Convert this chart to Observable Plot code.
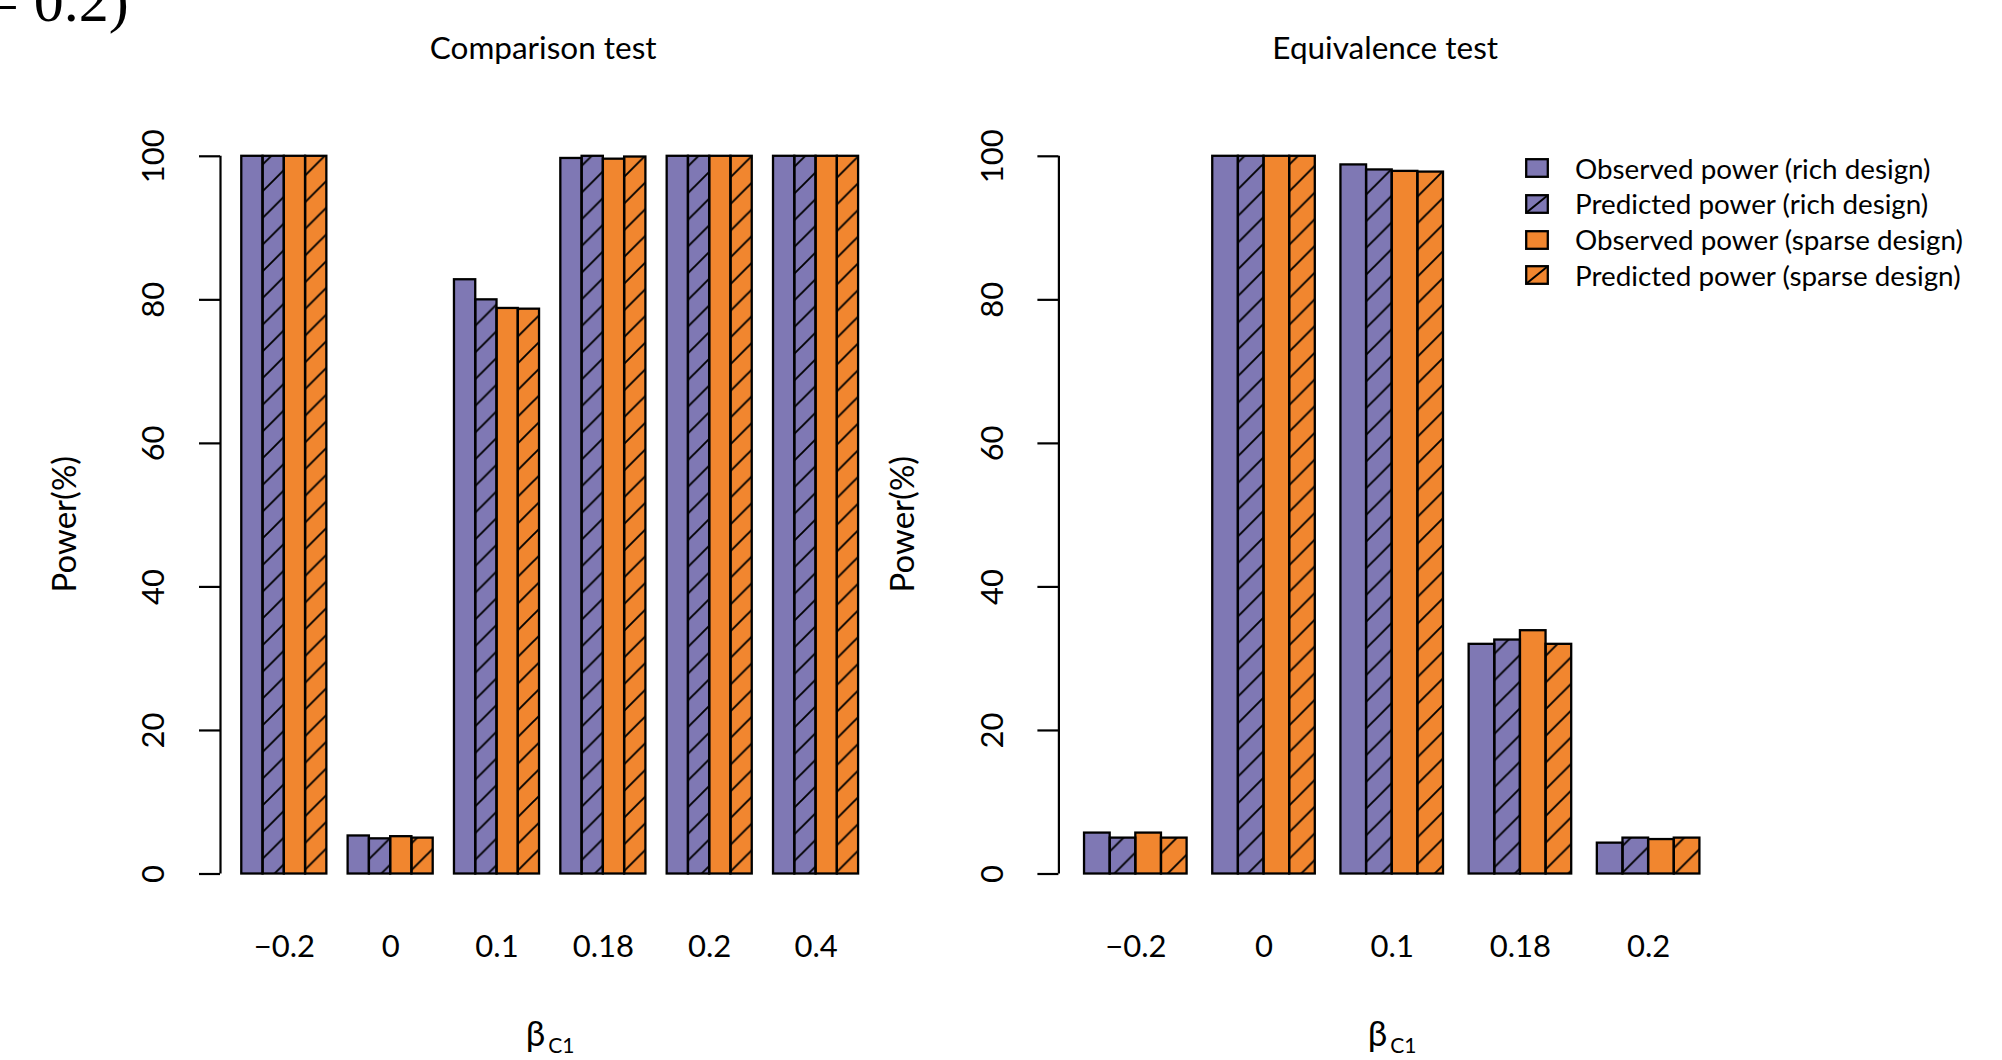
<!DOCTYPE html>
<html>
<head>
<meta charset="utf-8">
<script src="https://cdn.jsdelivr.net/npm/d3@7"></script>
<script src="https://cdn.jsdelivr.net/npm/@observablehq/plot@0.6"></script>
<style>
  html, body { margin: 0; padding: 0; background: #fff; }
  #wrap { position: relative; width: 2002px; height: 1060px; overflow: hidden; font-family: Lato, "Open Sans", sans-serif; }
  .panel { position: absolute; top: 0; }
  #corner { position: absolute; left: -15px; top: -29px; font-family: "Liberation Serif", "DejaVu Serif", serif; font-size: 60px; line-height: 1; white-space: pre; color: #000; }
  #legend { position: absolute; left: 1525px; top: 150px; }
  .lrow { position: absolute; left: 0; height: 36px; width: 475px; display: flex; align-items: center; }
  .lrow svg { flex: none; }
  .lrow span { margin-left: 26px; font-size: 27.8px; color: #000; white-space: nowrap; }
</style>
</head>
<body>
<div id="wrap">
  <svg width="0" height="0" style="position:absolute">
    <defs>
      <pattern id="hatch" patternUnits="userSpaceOnUse" width="26.7" height="26.7">
        <path d="M-6.7,6.7 L6.7,-6.7 M0,26.7 L26.7,0 M20,33.4 L33.4,20" stroke="#000" stroke-width="1.9" fill="none"/>
      </pattern>
    </defs>
  </svg>
  <div id="corner">= 0.2)</div>
  <div id="left" class="panel" style="left:0px"></div>
  <div id="right" class="panel" style="left:1000px"></div>
  <div id="legend"></div>
</div>
<script>
// ---- data ----
const seriesNames = [
  "Observed power (rich design)",
  "Predicted power (rich design)",
  "Observed power (sparse design)",
  "Predicted power (sparse design)"
];
const seriesColors = ["#7f78b4", "#7f78b4", "#f1862f", "#f1862f"];
const seriesHatched = [false, true, false, true];

const compTitle = "Comparison test";
const compGroups = ["\u22120.2", "0", "0.1", "0.18", "0.2", "0.4"];
const compObsRich    = [100, 5.3, 82.8, 99.7, 100, 100];
const compPredRich   = [100, 4.9, 80.0, 100, 100, 100];
const compObsSparse  = [100, 5.2, 78.8, 99.6, 100, 100];
const compPredSparse = [100, 5.0, 78.7, 99.9, 100, 100];

const equivTitle = "Equivalence test";
const equivGroups = ["\u22120.2", "0", "0.1", "0.18", "0.2"];
const equivObsRich    = [5.7, 100, 98.8, 32.0, 4.3];
const equivPredRich   = [5.0, 100, 98.1, 32.6, 5.0];
const equivObsSparse  = [5.7, 100, 97.9, 33.9, 4.8];
const equivPredSparse = [5.0, 100, 97.8, 32.0, 5.0];

const yTicks = [0, 20, 40, 60, 80, 100];
const yLabel = "Power(%)";
const xLabelMain = "\u03b2";
const xLabelSub = "C1";

// ---- build ----
function tableFor(groups, seriesVals) {
  const rows = [];
  groups.forEach((g, gi) => {
    seriesVals.forEach((vals, si) => {
      const x1 = gi * 5 + 1 + si; // barplot(beside=TRUE) layout: 1 space unit + 4 bars per group
      rows.push({group: g, gi, s: si, x1, x2: x1 + 1, value: vals[gi]});
    });
  });
  return rows;
}

const FONT = "Lato, 'Open Sans', sans-serif";

function panel({title, groups, series, width, marginLeft, marginRight}) {
  const data = tableFor(groups, series);
  const nUnits = groups.length * 5 + 1;
  const groupCenters = groups.map((g, gi) => ({label: g, c: gi * 5 + 3}));
  return Plot.plot({
    width, height: 1060,
    marginLeft, marginRight, marginTop: 155.8, marginBottom: 186.5,
    style: {fontFamily: FONT, background: "transparent", overflow: "visible"},
    x: {domain: [0, nUnits], axis: null},
    y: {domain: [0, 100], axis: null},
    marks: [
      Plot.rect(data, {x1: "x1", x2: "x2", y1: 0, y2: "value", fill: d => seriesColors[d.s]}),
      Plot.rect(data.filter(d => seriesHatched[d.s]), {x1: "x1", x2: "x2", y1: 0, y2: "value", fill: "url(#hatch)"}),
      Plot.rect(data, {x1: "x1", x2: "x2", y1: 0, y2: "value", fill: "none", stroke: "#000", strokeWidth: 2.3}),
      Plot.ruleX([0], {y1: 0, y2: 100, stroke: "#000", strokeWidth: 2.2}),
      Plot.axisY(yTicks, {tickSize: 21, tickFormat: () => "", label: null, stroke: "#000", strokeWidth: 2.2}),
      Plot.text(yTicks, {y: d => d, text: d => String(d), frameAnchor: "left", textAnchor: "middle", dx: -66, rotate: -90, fontSize: 31, fill: "#000"}),
      Plot.text([yLabel], {frameAnchor: "left", textAnchor: "middle", dx: -155, dy: 9, rotate: -90, fontSize: 33, fill: "#000"}),
      Plot.text(groupCenters, {x: "c", text: "label", frameAnchor: "bottom", dy: 83, lineAnchor: "bottom", fontSize: 31, fill: "#000"}),
      Plot.text([title], {frameAnchor: "top", dy: -107, dx: -7, lineAnchor: "middle", fontSize: 31.5, fill: "#000"}),
      Plot.text([xLabelMain], {frameAnchor: "bottom", dy: 171.5, dx: -5, textAnchor: "end", lineAnchor: "bottom", fontSize: 35, fill: "#000"}),
      Plot.text([xLabelSub], {frameAnchor: "bottom", dy: 178.5, dx: -2, textAnchor: "start", lineAnchor: "bottom", fontSize: 21, fill: "#000"})
    ]
  });
}

document.getElementById("left").appendChild(panel({
  title: compTitle, groups: compGroups,
  series: [compObsRich, compPredRich, compObsSparse, compPredSparse],
  width: 1000, marginLeft: 220, marginRight: 1000 - 220 - 31 * 21.27
}));
document.getElementById("right").appendChild(panel({
  title: equivTitle, groups: equivGroups,
  series: [equivObsRich, equivPredRich, equivObsSparse, equivPredSparse],
  width: 1002, marginLeft: 58.4, marginRight: 1002 - 58.4 - 26 * 25.64
}));

// ---- legend ----
const legend = d3.select("#legend");
seriesNames.forEach((name, i) => {
  const row = legend.append("div").attr("class", "lrow").style("top", (i * 35.8) + "px");
  const sw = row.append("svg").attr("width", 24).attr("height", 20);
  sw.append("rect").attr("x", 1.2).attr("y", 1.2).attr("width", 21.6).attr("height", 17.6)
    .attr("fill", seriesColors[i]).attr("stroke", "#000").attr("stroke-width", 2.3);
  if (seriesHatched[i]) {
    sw.append("line").attr("x1", 1.2).attr("y1", 18.8).attr("x2", 22.8).attr("y2", 1.2)
      .attr("stroke", "#000").attr("stroke-width", 2);
  }
  row.append("span").text(name);
});
</script>
</body>
</html>
